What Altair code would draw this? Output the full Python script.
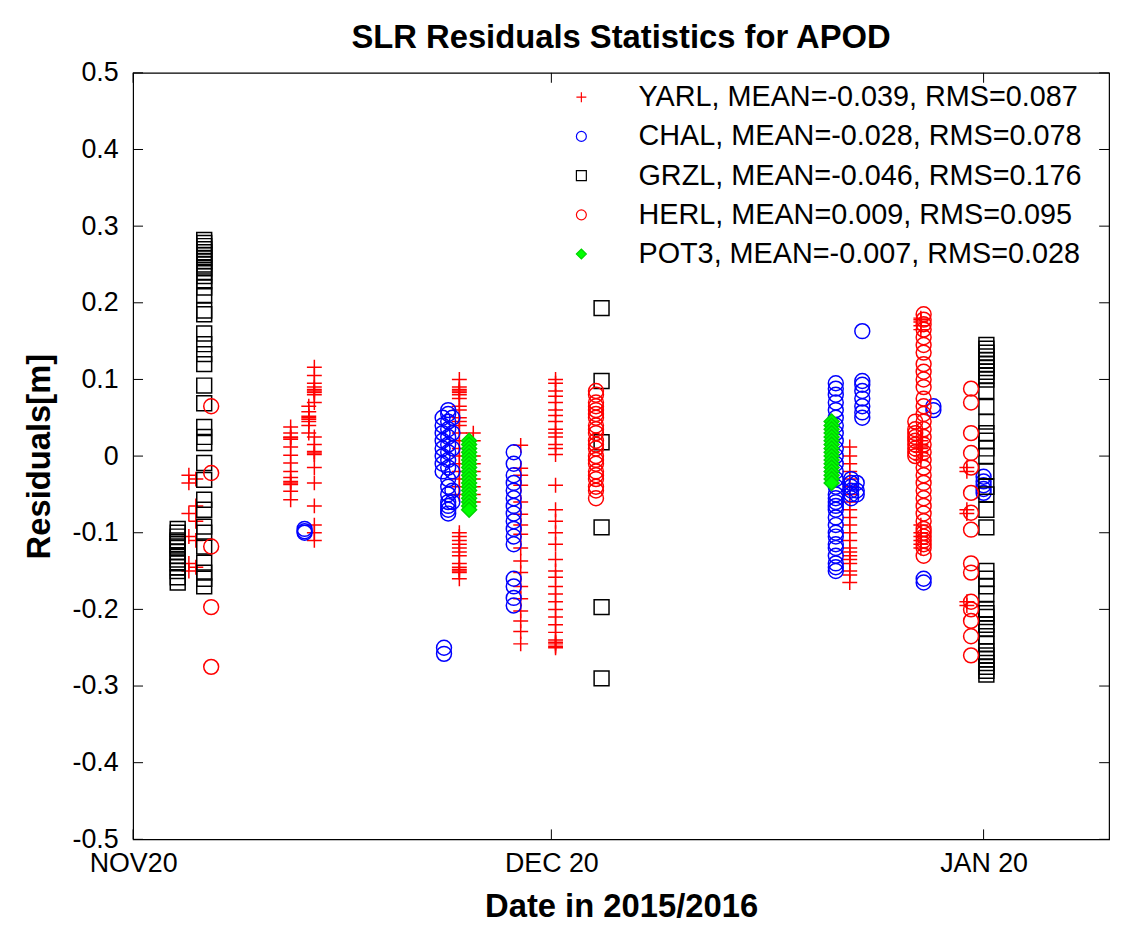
import altair as alt
import pandas as pd

FONT = "Liberation Sans"
TITLE = "SLR Residuals Statistics for APOD"

# ---- series metadata ----
STATIONS = ["YARL", "CHAL", "GRZL", "HERL", "POT3"]
MEANS = ["-0.039", "-0.028", "-0.046", "0.009", "-0.007"]
RMS = ["0.087", "0.078", "0.176", "0.095", "0.028"]
STROKES = ["#ff0000", "#0000ff", "#000000", "#ff0000", "#00d400"]
FILLS = ["transparent", "transparent", "transparent", "transparent", "#00ff00"]
SHAPES = ["M-1,0H1M0,-1V1", "circle", "square", "circle", "diamond"]

# ---- axes ----
X_TICKS = [0, 30, 61]                       # days after 2015-11-20
X_TICK_LABELS = ["NOV20", "DEC 20", "JAN 20"]
X_DOMAIN = [0, 70]
Y_TICKS = [-0.5, -0.4, -0.3, -0.2, -0.1, 0.0, 0.1, 0.2, 0.3, 0.4, 0.5]
Y_DOMAIN = [-0.5, 0.5]

# ---- residuals per pass: (day after Nov 20, [residuals in m]) ----
YARL_PASSES = [
    (4.0, [-0.025, -0.035, -0.075, -0.105, -0.14, -0.15]),
    (4.5, [-0.03, -0.065, -0.085, -0.11, -0.145]),
    (11.3, [0.038, 0.03, 0.025, 0.024, 0.022, 0.012, 0.001, -0.009, -0.02,
            -0.028, -0.033, -0.035, -0.037, -0.046, -0.057]),
    (12.6, [0.065, 0.058, 0.052, 0.05, 0.048, 0.045, 0.04, 0.03]),
    (13.0, [0.116, 0.105, 0.095, 0.09, 0.087, 0.085, 0.083, 0.08, 0.07, 0.025,
            0.015, 0.006, 0.004, 0.002, -0.015, -0.035, -0.065, -0.09, -0.1, -0.11]),
    (23.4, [0.1, 0.09, 0.087, 0.085, 0.083, 0.08, 0.075, 0.065, 0.06, 0.05, 0.045,
            0.04, 0.03, 0.02, 0.01, 0.0, -0.01, -0.02, -0.03, -0.04, -0.05, -0.1,
            -0.105, -0.11, -0.115, -0.12, -0.125, -0.13, -0.14, -0.145, -0.148,
            -0.15, -0.152, -0.16]),
    (24.4, [0.03, 0.02, 0.0, -0.01, -0.02, -0.03, -0.04, -0.05, -0.06]),
    (27.8, [0.014, -0.016, -0.025, -0.038, -0.06, -0.076, -0.09, -0.102, -0.12,
            -0.137, -0.152, -0.17, -0.186, -0.202, -0.215, -0.229, -0.245]),
    (30.3, [0.1, 0.095, 0.085, 0.078, 0.07, 0.06, 0.053, 0.045, 0.035, 0.03, 0.025,
            0.015, 0.01, 0.002, -0.038, -0.07, -0.085, -0.1, -0.115, -0.135, -0.15,
            -0.158, -0.17, -0.18, -0.19, -0.2, -0.21, -0.22, -0.23, -0.24, -0.243,
            -0.245, -0.248, -0.25]),
    (51.4, [0.012, 0.0, -0.01, -0.02, -0.03, -0.04, -0.05, -0.06, -0.07, -0.08,
            -0.09, -0.1, -0.11, -0.12, -0.125, -0.13, -0.135, -0.14, -0.15, -0.155,
            -0.165]),
    (56.5, [0.18, 0.178, 0.175, 0.17, 0.165, 0.025, 0.02, 0.015, 0.012, 0.01, 0.005,
            0.0, -0.005, -0.09, -0.1, -0.105, -0.11, -0.115, -0.12]),
    (59.8, [-0.015, -0.02, -0.07, -0.075, -0.19, -0.195]),
]
CHAL_PASSES = [
    (12.3, [-0.095, -0.098, -0.1]),
    (22.2, [0.05, 0.04, 0.03, 0.02, 0.01, 0.0, -0.01, -0.02]),
    (22.6, [0.06, 0.055, 0.045, 0.035, 0.025, 0.015, 0.005, -0.005, -0.015, -0.03,
            -0.04, -0.05, -0.06, -0.065, -0.07, -0.075]),
    (22.9, [0.05, 0.03, 0.01, -0.02, -0.045, -0.06]),
    (22.3, [-0.25, -0.258]),
    (27.3, [0.005, -0.01, -0.025, -0.035, -0.045, -0.055, -0.065, -0.075, -0.085,
            -0.095, -0.105, -0.115, -0.16, -0.17, -0.185, -0.195]),
    (50.4, [0.095, 0.088, 0.08, 0.07, 0.06, 0.05, 0.04, 0.03, 0.02, 0.01, 0.0, -0.01,
            -0.02, -0.03, -0.04, -0.05, -0.055, -0.06, -0.065, -0.07, -0.08, -0.09,
            -0.1, -0.105, -0.115, -0.12, -0.13, -0.14, -0.145, -0.15]),
    (51.5, [-0.03, -0.035, -0.04, -0.045, -0.05, -0.055]),
    (51.9, [-0.035, -0.045, -0.05]),
    (52.3, [0.163, 0.098, 0.093, 0.085, 0.075, 0.065, 0.057, 0.05]),
    (57.4, [0.065, 0.06]),
    (56.7, [-0.16, -0.165]),
    (61.0, [-0.027, -0.033, -0.038, -0.043, -0.048]),
]
GRZL_PASSES = [
    (3.2, [-0.095, -0.1, -0.105, -0.11, -0.112, -0.115, -0.118, -0.12, -0.125, -0.13,
           -0.135, -0.14, -0.145, -0.15, -0.158, -0.165]),
    (5.1, [0.282, 0.278, 0.274, 0.27, 0.266, 0.262, 0.258, 0.254, 0.25, 0.245, 0.24,
           0.235, 0.228, 0.22, 0.21, 0.19, 0.185, 0.16, 0.146, 0.133, 0.12, 0.092,
           0.069, 0.038, 0.025, 0.017, -0.009, -0.031, -0.057, -0.07, -0.092, -0.1,
           -0.118, -0.139, -0.152, -0.16, -0.17]),
    (33.6, [0.193, 0.098, 0.018, -0.093, -0.197, -0.29]),
    (61.2, [0.145, 0.14, 0.135, 0.13, 0.125, 0.12, 0.115, 0.11, 0.105, 0.1, 0.085,
            0.064, 0.045, 0.03, 0.02, 0.01, 0.0, -0.02, -0.04, -0.05, -0.07, -0.093,
            -0.15, -0.16, -0.17, -0.18, -0.2, -0.205, -0.21, -0.22, -0.225, -0.235,
            -0.245, -0.255, -0.26, -0.265, -0.27, -0.275, -0.28, -0.285]),
]
HERL_PASSES = [
    (5.6, [0.065, -0.022, -0.118, -0.197, -0.275]),
    (33.2, [0.085, 0.08, 0.07, 0.065, 0.06, 0.055, 0.05, 0.04, 0.035, 0.03, 0.02,
            0.015, 0.01, 0.0, -0.005, -0.01, -0.02, -0.025, -0.03, -0.04, -0.045,
            -0.055]),
    (56.1, [0.045, 0.035, 0.03, 0.025, 0.02, 0.015, 0.01, 0.005, 0.0]),
    (56.7, [0.185, 0.178, 0.172, 0.165, 0.155, 0.145, 0.135, 0.12, 0.11, 0.1, 0.09,
            0.075, 0.065, 0.055, 0.045, 0.035, 0.025, 0.015, 0.005, -0.005, -0.015,
            -0.025, -0.035, -0.045, -0.055, -0.065, -0.075, -0.085, -0.095, -0.1,
            -0.105, -0.11, -0.115, -0.12, -0.13]),
    (60.1, [0.088, 0.07, 0.03, 0.004, -0.015, -0.048, -0.074, -0.096, -0.14, -0.152,
            -0.19, -0.2, -0.215, -0.235, -0.26]),
]
POT3_PASSES = [
    (24.1, [0.02, 0.015, 0.01, 0.005, 0.0, -0.005, -0.01, -0.015, -0.02, -0.025,
            -0.03, -0.035, -0.04, -0.045, -0.05, -0.055, -0.06, -0.065, -0.07]),
    (50.1, [0.045, 0.04, 0.035, 0.03, 0.025, 0.02, 0.015, 0.01, 0.005, 0.0, -0.005,
            -0.01, -0.015, -0.02, -0.025, -0.03, -0.035]),
]

ALL_PASSES = [YARL_PASSES, CHAL_PASSES, GRZL_PASSES, HERL_PASSES, POT3_PASSES]
LABELS = [f"{s}, MEAN={m}, RMS={r}" for s, m, r in zip(STATIONS, MEANS, RMS)]

rows = []
for k, (label, passes) in enumerate(zip(LABELS, ALL_PASSES)):
    for day, vals in passes:
        for v in vals:
            rows.append({"series": label, "day": day, "res": v, "k": k})
df = pd.DataFrame(rows)

# ---- layout (plot area) ----
W, H = 983, 772
TICK = 10

x_scale = alt.Scale(domain=X_DOMAIN, nice=False, zero=False)
y_scale = alt.Scale(domain=Y_DOMAIN, nice=False, zero=False)

x_label_expr = " : ".join(
    f"datum.value == {v} ? '{t}'" for v, t in zip(X_TICKS[:-1], X_TICK_LABELS[:-1])
) + f" : '{X_TICK_LABELS[-1]}'"
y_label_expr = "datum.value == 0 ? '0' : replace(format(datum.value, '.1f'), '\u2212', '-')"

X_AXIS = alt.Axis(values=X_TICKS, labelExpr=x_label_expr, ticks=False, domain=False,
                  grid=False, title="Date in 2015/2016", labelFont=FONT, labelFontSize=27,
                  labelColor="black", labelPadding=11, labelFlush=False,
                  titleFont=FONT, titleFontSize=33, titleColor="black",
                  titleFontWeight="bold", titleX=W / 2, titleY=78,
                  titleBaseline="alphabetic", titleAlign="center")
Y_AXIS = alt.Axis(values=Y_TICKS, labelExpr=y_label_expr, ticks=False, domain=False,
                  grid=False, title="Residuals[m]", labelFont=FONT, labelFontSize=27,
                  labelColor="black", labelPadding=15,
                  titleFont=FONT, titleFontSize=33, titleColor="black",
                  titleFontWeight="bold", titleX=-84, titleY=H / 2, titleAngle=270,
                  titleBaseline="alphabetic", titleAlign="center")

legend = alt.Legend(
    title=None, orient="none", legendX=437, legendY=10, padding=0,
    labelFont=FONT, labelFontSize=29, labelColor="black", labelLimit=0,
    labelOffset=43, rowPadding=9.5, symbolSize=100, symbolStrokeWidth=1.2,
)

points = alt.Chart(df).mark_point(size=225, strokeWidth=1.5, opacity=1, filled=False).encode(
    x=alt.X("day:Q", scale=x_scale, axis=X_AXIS, title="Date in 2015/2016"),
    y=alt.Y("res:Q", scale=y_scale, axis=Y_AXIS, title="Residuals[m]"),
    stroke=alt.Stroke("series:N", scale=alt.Scale(domain=LABELS, range=STROKES), legend=legend),
    fill=alt.Fill("series:N", scale=alt.Scale(domain=LABELS, range=FILLS), legend=legend),
    shape=alt.Shape("series:N", scale=alt.Scale(domain=LABELS, range=SHAPES), legend=legend),
    order=alt.Order("k:Q"),
)

ytick_df = pd.DataFrame({"res": Y_TICKS})
xtick_df = pd.DataFrame({"day": X_TICKS})
yt = alt.Chart(ytick_df).mark_rule(color="black", strokeWidth=1)
xt = alt.Chart(xtick_df).mark_rule(color="black", strokeWidth=1)
left_ticks = yt.encode(y=alt.Y("res:Q", scale=y_scale, axis=Y_AXIS, title="Residuals[m]"),
                       x=alt.value(0), x2=alt.value(TICK))
right_ticks = yt.encode(y=alt.Y("res:Q", scale=y_scale, axis=Y_AXIS, title="Residuals[m]"),
                        x=alt.value(W - TICK), x2=alt.value(W))
bottom_ticks = xt.encode(x=alt.X("day:Q", scale=x_scale, axis=X_AXIS, title="Date in 2015/2016"),
                         y=alt.value(H - TICK), y2=alt.value(H))
top_ticks = xt.encode(x=alt.X("day:Q", scale=x_scale, axis=X_AXIS, title="Date in 2015/2016"),
                      y=alt.value(0), y2=alt.value(TICK))

# chart title, drawn as a text mark centred above the plot area
title_text = alt.Chart(pd.DataFrame({"t": [TITLE]})).mark_text(
    font=FONT, fontSize=33, fontWeight="bold", color="black",
    align="center", baseline="alphabetic",
).encode(text="t:N", x=alt.value(W / 2), y=alt.value(-25))

chart = alt.layer(points, left_ticks, right_ticks, bottom_ticks, top_ticks, title_text).properties(
    width=W, height=H,
    background="white",
    autosize=alt.AutoSizeParams(type="none"),
    padding={"left": 126, "top": 62, "right": 10, "bottom": 87},
).configure_view(stroke="black", strokeWidth=1.2)

chart.save("out.html", embed_options={"renderer": "svg", "actions": False})
